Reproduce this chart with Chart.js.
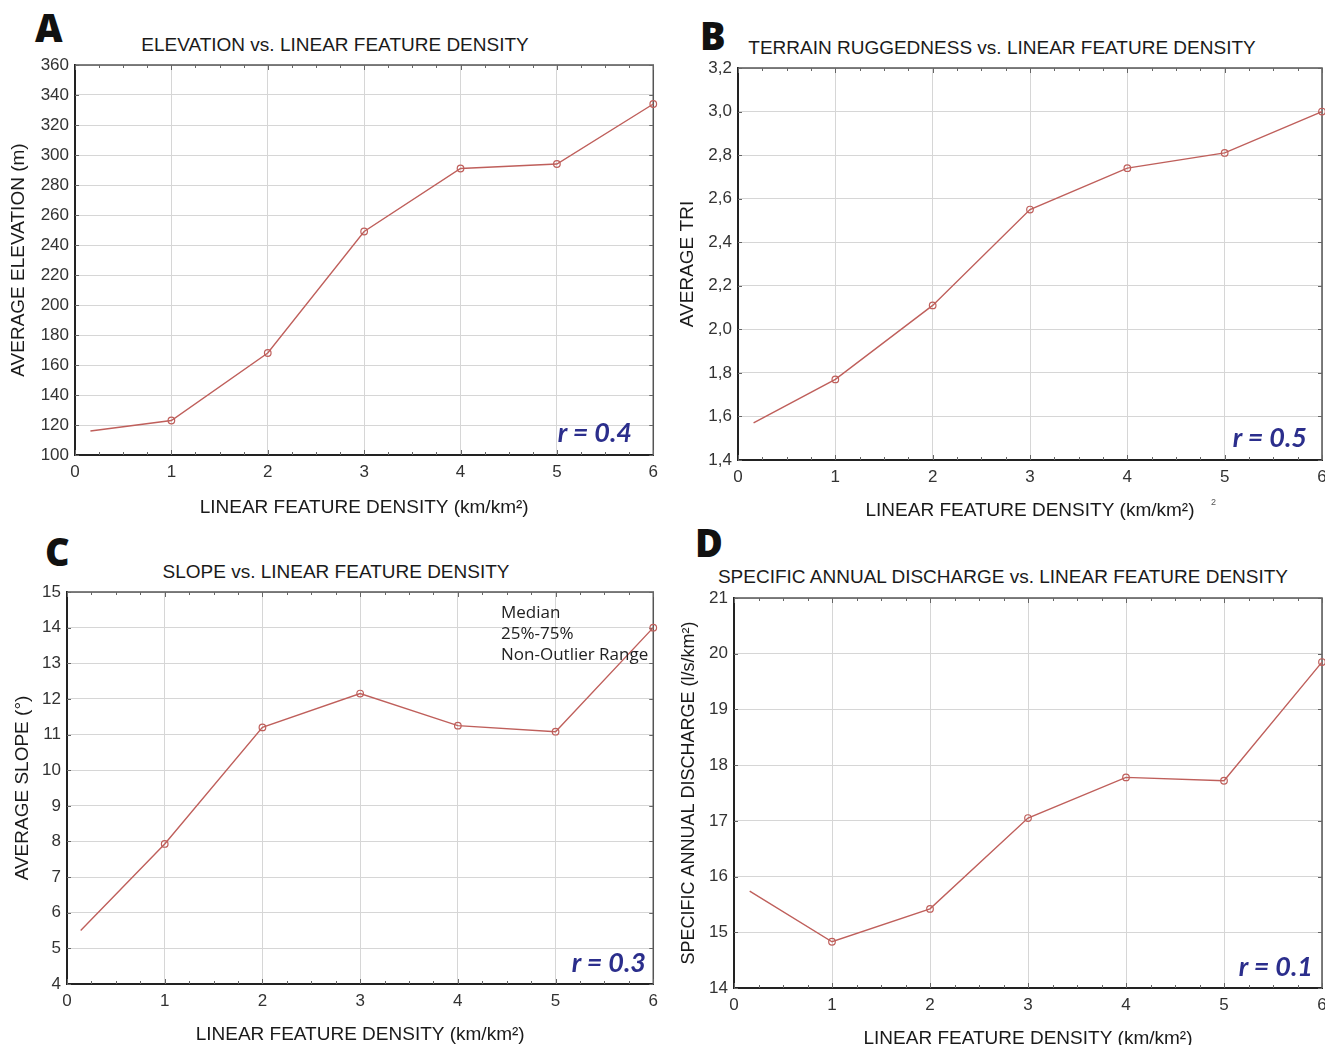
<!DOCTYPE html>
<html><head><meta charset="utf-8">
<script src="https://cdn.jsdelivr.net/npm/chart.js@4.4.0/dist/chart.umd.min.js"></script>
<style>
html,body{margin:0;padding:0;width:1325px;height:1045px;overflow:hidden;background:#fff;}
body{position:relative;}
canvas{position:absolute;}
.t{position:absolute;white-space:nowrap;font-family:'Liberation Sans',Arial,sans-serif;font-size:19px;color:#1a1a1a;transform:translate(-50%,-50%);line-height:1;}
.letter{position:absolute;font-family:'Open Sans','DejaVu Sans',sans-serif;font-weight:800;font-size:38px;line-height:1;color:#111;}
.r{position:absolute;font-family:Lato,'Open Sans',sans-serif;font-weight:bold;font-style:italic;font-size:27px;color:#2b2e8c;line-height:1;transform:translate(-100%,-50%);white-space:nowrap;}
.leg{position:absolute;font-family:'Open Sans',sans-serif;font-size:17px;color:#222;line-height:21px;white-space:nowrap;}
.stray{position:absolute;font-family:'Liberation Sans',sans-serif;font-size:9px;color:#555;}
</style></head><body>

<div class="letter" style="left:35px;top:8px">A</div>
<div class="letter" style="left:700px;top:16px">B</div>
<div class="letter" style="left:45px;top:532px">C</div>
<div class="letter" style="left:695px;top:523px">D</div>

<div class="t" id="tA" style="left:335px;top:44px"></div>
<div class="t" id="tB" style="left:1002px;top:47px"></div>
<div class="t" id="tC" style="left:336px;top:571px"></div>
<div class="t" id="tD" style="left:1003px;top:576px"></div>

<canvas id="cA" width="665" height="525" style="left:0;top:0"></canvas>
<canvas id="cB" width="680" height="525" style="left:665px;top:0"></canvas>
<canvas id="cC" width="665" height="520" style="left:0;top:525px"></canvas>
<canvas id="cD" width="680" height="520" style="left:665px;top:525px"></canvas>

<div class="r" style="left:632px;top:431px">r = 0.4</div>
<div class="r" style="left:1307px;top:436px">r = 0.5</div>
<div class="r" style="left:646px;top:961px">r = 0.3</div>
<div class="r" style="left:1313px;top:965px">r = 0.1</div>

<div class="leg" style="left:501px;top:601px">Median<br>25%-75%<br>Non-Outlier Range</div>
<div class="stray" style="left:1211px;top:497px">2</div>

<script>
// ---- data ----
const xTickValues = [0, 1, 2, 3, 4, 5, 6];
const densityA = [0.16, 1, 2, 3, 4, 5, 6];
const densityB = [0.16, 1, 2, 3, 4, 5, 6];
const densityC = [0.14, 1, 2, 3, 4, 5, 6];
const densityD = [0.16, 1, 2, 3, 4, 5, 6];

const elevation = [116, 123, 168, 249, 291, 294, 334];
const tri = [1.57, 1.77, 2.11, 2.55, 2.74, 2.81, 3.0];
const slope = [5.5, 7.93, 11.2, 12.15, 11.25, 11.08, 14.0];
const discharge = [15.74, 14.83, 15.42, 17.05, 17.78, 17.72, 19.85];

const elevationTicks = [100,120,140,160,180,200,220,240,260,280,300,320,340,360];
const triTicks = [1.4,1.6,1.8,2.0,2.2,2.4,2.6,2.8,3.0,3.2];
const slopeTicks = [4,5,6,7,8,9,10,11,12,13,14,15];
const dischargeTicks = [14,15,16,17,18,19,20,21];

const titles = {
  A: 'ELEVATION vs. LINEAR FEATURE DENSITY',
  B: 'TERRAIN RUGGEDNESS vs. LINEAR FEATURE DENSITY',
  C: 'SLOPE vs. LINEAR FEATURE DENSITY',
  D: 'SPECIFIC ANNUAL DISCHARGE vs. LINEAR FEATURE DENSITY'
};
const xTitle = 'LINEAR FEATURE DENSITY (km/km²)';
const yTitles = {
  A: 'AVERAGE ELEVATION (m)',
  B: 'AVERAGE TRI',
  C: 'AVERAGE SLOPE (°)',
  D: 'SPECIFIC ANNUAL DISCHARGE (l/s/km²)'
};

for (const k of ['A','B','C','D']) document.getElementById('t'+k).textContent = titles[k];

const LINE = '#bf5f5b';
const FONT = "'Liberation Sans', Arial, sans-serif";

const framePlugin = {
  id: 'frame',
  beforeDatasetsDraw(chart) {
    const {ctx, chartArea: a, scales: {x, y}} = chart;
    ctx.save();
    ctx.strokeStyle = '#555'; ctx.lineWidth = 1.5;
    ctx.beginPath();
    ctx.moveTo(a.left, a.top); ctx.lineTo(a.right, a.top); ctx.lineTo(a.right, a.bottom);
    ctx.stroke();
    ctx.strokeStyle = '#666'; ctx.lineWidth = 1;
    ctx.beginPath();
    for (let v = x.min; v <= x.max + 1e-9; v += 0.25) {
      const px = Math.round(x.getPixelForValue(v)) + 0.5;
      const len = Math.abs(v - Math.round(v)) < 1e-9 ? 5 : 3;
      ctx.moveTo(px, a.bottom); ctx.lineTo(px, a.bottom - len);
      ctx.moveTo(px, a.top); ctx.lineTo(px, a.top + len);
    }
    y.ticks.forEach(t => {
      const py = Math.round(y.getPixelForValue(t.value)) + 0.5;
      ctx.moveTo(a.left, py); ctx.lineTo(a.left + 4, py);
      ctx.moveTo(a.right, py); ctx.lineTo(a.right - 4, py);
    });
    ctx.stroke();
    ctx.restore();
  }
};

function makeChart(id, xs, ys, yTicks, fmt, yTitle, L) {
  const pts = xs.map((x, i) => ({x: x, y: ys[i]}));
  return new Chart(document.getElementById(id), {
    type: 'line',
    data: { datasets: [{
      data: pts,
      borderColor: LINE, borderWidth: 1.4, tension: 0, clip: false,
      pointRadius: xs.map((_, i) => i === 0 ? 0 : 3.3),
      pointBorderColor: LINE, pointBackgroundColor: 'rgba(255,255,255,0)', pointBorderWidth: 1.2
    }]},
    options: {
      responsive: false, animation: false, events: [],
      layout: { padding: { left: 0, top: L.padTop, right: L.padRight, bottom: 0 } },
      plugins: { legend: {display: false}, tooltip: {enabled: false}, title: {display: false} },
      scales: {
        x: {
          type: 'linear', min: 0, max: 6,
          afterBuildTicks: s => { s.ticks = xTickValues.map(v => ({value: v})); },
          afterFit: s => { s.height = L.xH; },
          grid: { color: '#d6d6d6', lineWidth: 1, drawTicks: false },
          border: { color: '#222', width: 2 },
          ticks: { padding: 7, color: '#333', font: {family: FONT, size: 17}, maxRotation: 0, autoSkip: false,
                   callback: v => String(v) },
          title: { display: true, text: xTitle, color: '#1a1a1a', font: {family: FONT, size: 19, lineHeight: 1}, padding: {top: 0, bottom: L.xtPad} }
        },
        y: {
          type: 'linear', min: yTicks[0], max: yTicks[yTicks.length - 1],
          afterBuildTicks: s => { s.ticks = yTicks.map(v => ({value: v})); },
          afterFit: s => { s.width = L.yW; },
          grid: { color: '#d6d6d6', lineWidth: 1, drawTicks: false },
          border: { color: '#222', width: 2 },
          ticks: { padding: 6, color: '#333', font: {family: FONT, size: 17}, autoSkip: false, callback: fmt },
          title: { display: true, text: yTitle, color: '#1a1a1a', font: {family: FONT, size: L.ytSize || 19}, padding: {top: L.ytPad, bottom: 0} }
        }
      }
    },
    plugins: [framePlugin]
  });
}

const intFmt = v => String(Math.round(v));
const commaFmt = v => v.toFixed(1).replace('.', ',');

makeChart('cA', densityA, elevation, elevationTicks, intFmt, yTitles.A,
  {padTop: 65, padRight: 10, xH: 70, yW: 75, xtPad: 8, ytPad: 7});
makeChart('cB', densityB, tri, triTicks, commaFmt, yTitles.B,
  {padTop: 68, padRight: 23, xH: 65, yW: 73, xtPad: 5, ytPad: 11});
makeChart('cC', densityC, slope, slopeTicks, intFmt, yTitles.C,
  {padTop: 67, padRight: 8, xH: 61, yW: 67, xtPad: 1, ytPad: 11});
makeChart('cD', densityD, discharge, dischargeTicks, intFmt, yTitles.D,
  {padTop: 73, padRight: 23, xH: 57, yW: 69, xtPad: -3, ytPad: 13, ytSize: 18});
</script>
</body></html>
